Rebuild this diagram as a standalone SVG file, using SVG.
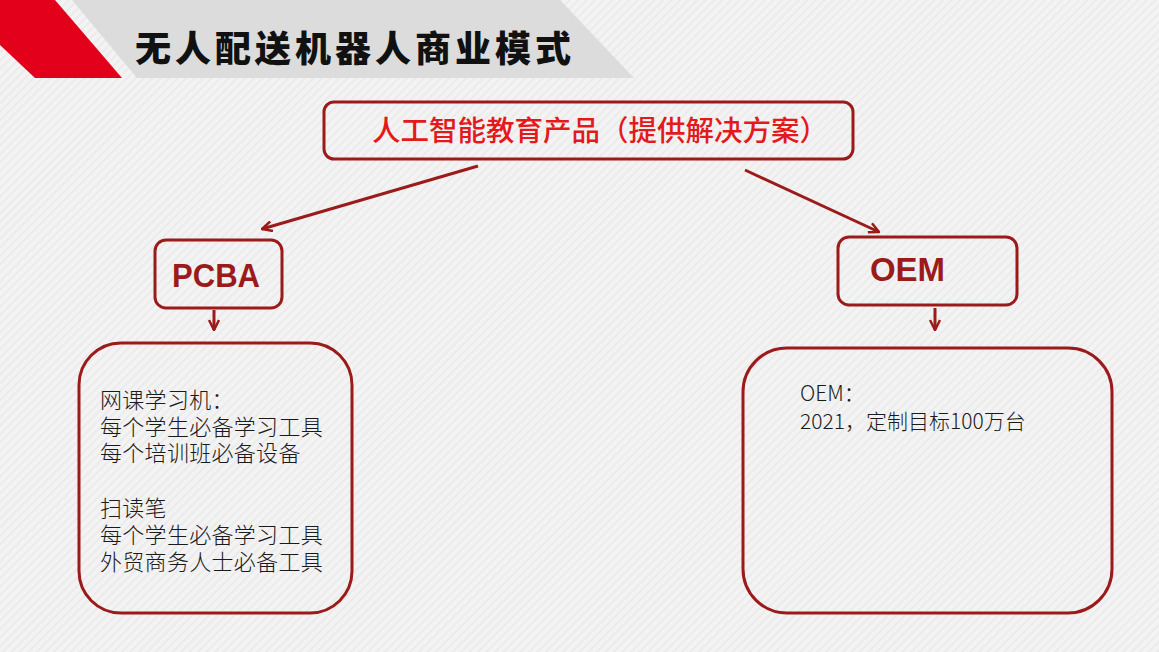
<svg xmlns="http://www.w3.org/2000/svg" width="1159" height="652" viewBox="0 0 1159 652">
  <style>
    .box { fill: none; stroke: #9b1b1b; stroke-width: 3; }
    .conn { fill: none; stroke: #9b1b1b; stroke-width: 3; }
    .big { font-family: "Liberation Sans", "Noto Sans CJK SC", sans-serif; font-weight: bold; fill: #9b1b1b; }
    .body { font-family: "Noto Sans CJK SC", "Noto Sans", sans-serif; font-weight: 300; fill: #1a1a1a; }
  </style>
  <defs>
    <pattern id="stripes" width="6" height="6" patternUnits="userSpaceOnUse" patternTransform="rotate(45)">
      <rect width="6" height="6" fill="#f3f3f3"/>
      <rect width="2" height="6" fill="#ebebeb"/>
    </pattern>
    <marker id="arr" viewBox="0 0 12 12" refX="11" refY="6" markerWidth="12" markerHeight="12" markerUnits="userSpaceOnUse" orient="auto">
      <path d="M1,1 L11,6 L1,11" fill="none" stroke="#9b1b1b" stroke-width="2.5"/>
    </marker>
  </defs>

  <rect width="1159" height="652" fill="url(#stripes)"/>

  <g id="header">
    <polygon points="0,0 55,0 122,78 35,78 0,45" fill="#e3001b"/>
    <polygon points="72,0 560,0 634,78 137,78" fill="#dcdcdc"/>
    <text x="135" y="62" font-family="Noto Sans CJK SC, sans-serif" font-weight="900" font-size="36" letter-spacing="4" fill="#111">无人配送机器人商业模式</text>
  </g>

  <g id="connectors">
    <line class="conn" x1="478" y1="166" x2="262" y2="229" marker-end="url(#arr)"/>
    <line class="conn" x1="745" y1="170" x2="879" y2="232" marker-end="url(#arr)"/>
    <line class="conn" x1="214" y1="310" x2="214" y2="330" marker-end="url(#arr)"/>
    <line class="conn" x1="935" y1="308" x2="935" y2="330" marker-end="url(#arr)"/>
  </g>

  <g id="node-top">
    <rect class="box" x="324" y="102" width="529" height="57" rx="10"/>
    <text x="372" y="141" font-family="Noto Sans CJK SC, sans-serif" font-weight="500" font-size="28.5" fill="#e3191b">人工智能教育产品（提供解决方案）</text>
  </g>

  <g id="node-pcba">
    <rect class="box" x="155" y="240" width="127" height="68" rx="11"/>
    <text class="big" x="172" y="287" font-size="34" textLength="88" lengthAdjust="spacingAndGlyphs">PCBA</text>
  </g>

  <g id="node-oem">
    <rect class="box" x="838" y="237" width="179" height="68" rx="11"/>
    <text class="big" x="870" y="281" font-size="33" textLength="75" lengthAdjust="spacingAndGlyphs">OEM</text>
  </g>

  <g id="node-pcba-detail">
    <rect class="box" x="79" y="343" width="273" height="270" rx="42"/>
    <text class="body" font-size="22" letter-spacing="0.3">
      <tspan x="100" y="408">网课学习机：</tspan>
      <tspan x="100" y="435">每个学生必备学习工具</tspan>
      <tspan x="100" y="461">每个培训班必备设备</tspan>
      <tspan x="100" y="516">扫读笔</tspan>
      <tspan x="100" y="543">每个学生必备学习工具</tspan>
      <tspan x="100" y="570">外贸商务人士必备工具</tspan>
    </text>
  </g>

  <g id="node-oem-detail">
    <rect class="box" x="743" y="348" width="369" height="265" rx="44"/>
    <text class="body" font-size="21">
      <tspan x="800" y="401">OEM：</tspan>
      <tspan x="800" y="429">2021，定制目标100万台</tspan>
    </text>
  </g>
</svg>
